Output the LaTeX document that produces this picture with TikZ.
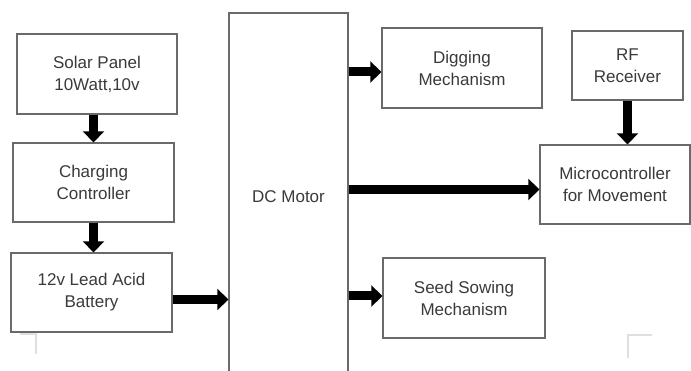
\documentclass[tikz,border=0pt]{standalone}
\usepackage{fontspec}
\setmainfont{Liberation Sans}
\usetikzlibrary{arrows.meta,calc}
\definecolor{txt}{HTML}{3A3A3A}
\definecolor{edge}{HTML}{6A6A6A}
\tikzset{
  blk/.style={draw=edge, line width=1.3pt, rectangle, align=center, text=txt,
    font=\fontsize{17}{22}\selectfont, inner sep=0pt},
  arr/.style={draw=black, line width=9pt, -{Triangle[length=11pt,width=21pt]}},
  faint/.style={draw=gray!25, line width=1.2pt}
}
\begin{document}
\begin{tikzpicture}[x=1pt,y=-1pt]
\useasboundingbox (0,0) rectangle (691,371);
\clip (0,0) rectangle (691,371);
\node[blk, minimum width=160pt, minimum height=80pt] (solar) at (97,74) {Solar Panel\\10Watt,10v};
\node[blk, minimum width=161pt, minimum height=79pt] (charge) at (93.5,182.5) {Charging\\Controller};
\node[blk, minimum width=161pt, minimum height=79pt] (batt) at (91.5,292.5) {12v Lead Acid\\Battery};
\node[blk, minimum width=119pt, minimum height=368pt] (motor) at (288.5,197) {DC Motor};
\node[blk, minimum width=160pt, minimum height=80pt] (dig) at (462,68) {Digging\\Mechanism};
\node[blk, minimum width=162pt, minimum height=80pt] (seed) at (464,298) {Seed Sowing\\Mechanism};
\node[blk, minimum width=111pt, minimum height=69pt] (rf) at (627.5,65.5) {RF\\Receiver};
\node[blk, minimum width=150pt, minimum height=79pt] (micro) at (615,184.5) {Microcontroller\\for Movement};
\draw[arr] (charge.north |- solar.south) -- (charge.north);
\draw[arr] (charge.south) -- (charge.south |- batt.north);
\draw[arr] ([yshift=-7pt]batt.east) -- ([yshift=-7pt]batt.east -| motor.west);
\draw[arr] ([yshift=-4pt]dig.west -| motor.east) -- ([yshift=-4pt]dig.west);
\draw[arr] ([yshift=-5pt]micro.west -| motor.east) -- ([yshift=-5pt]micro.west);
\draw[arr] ([yshift=2pt]seed.west -| motor.east) -- ([yshift=2pt]seed.west);
\draw[arr] (rf.south) -- (rf.south |- micro.north);
\draw[faint] (20,334) -- (36,334) -- (36,354);
\draw[faint] (628,358) -- (628,335) -- (652,335);
\end{tikzpicture}
\end{document}
